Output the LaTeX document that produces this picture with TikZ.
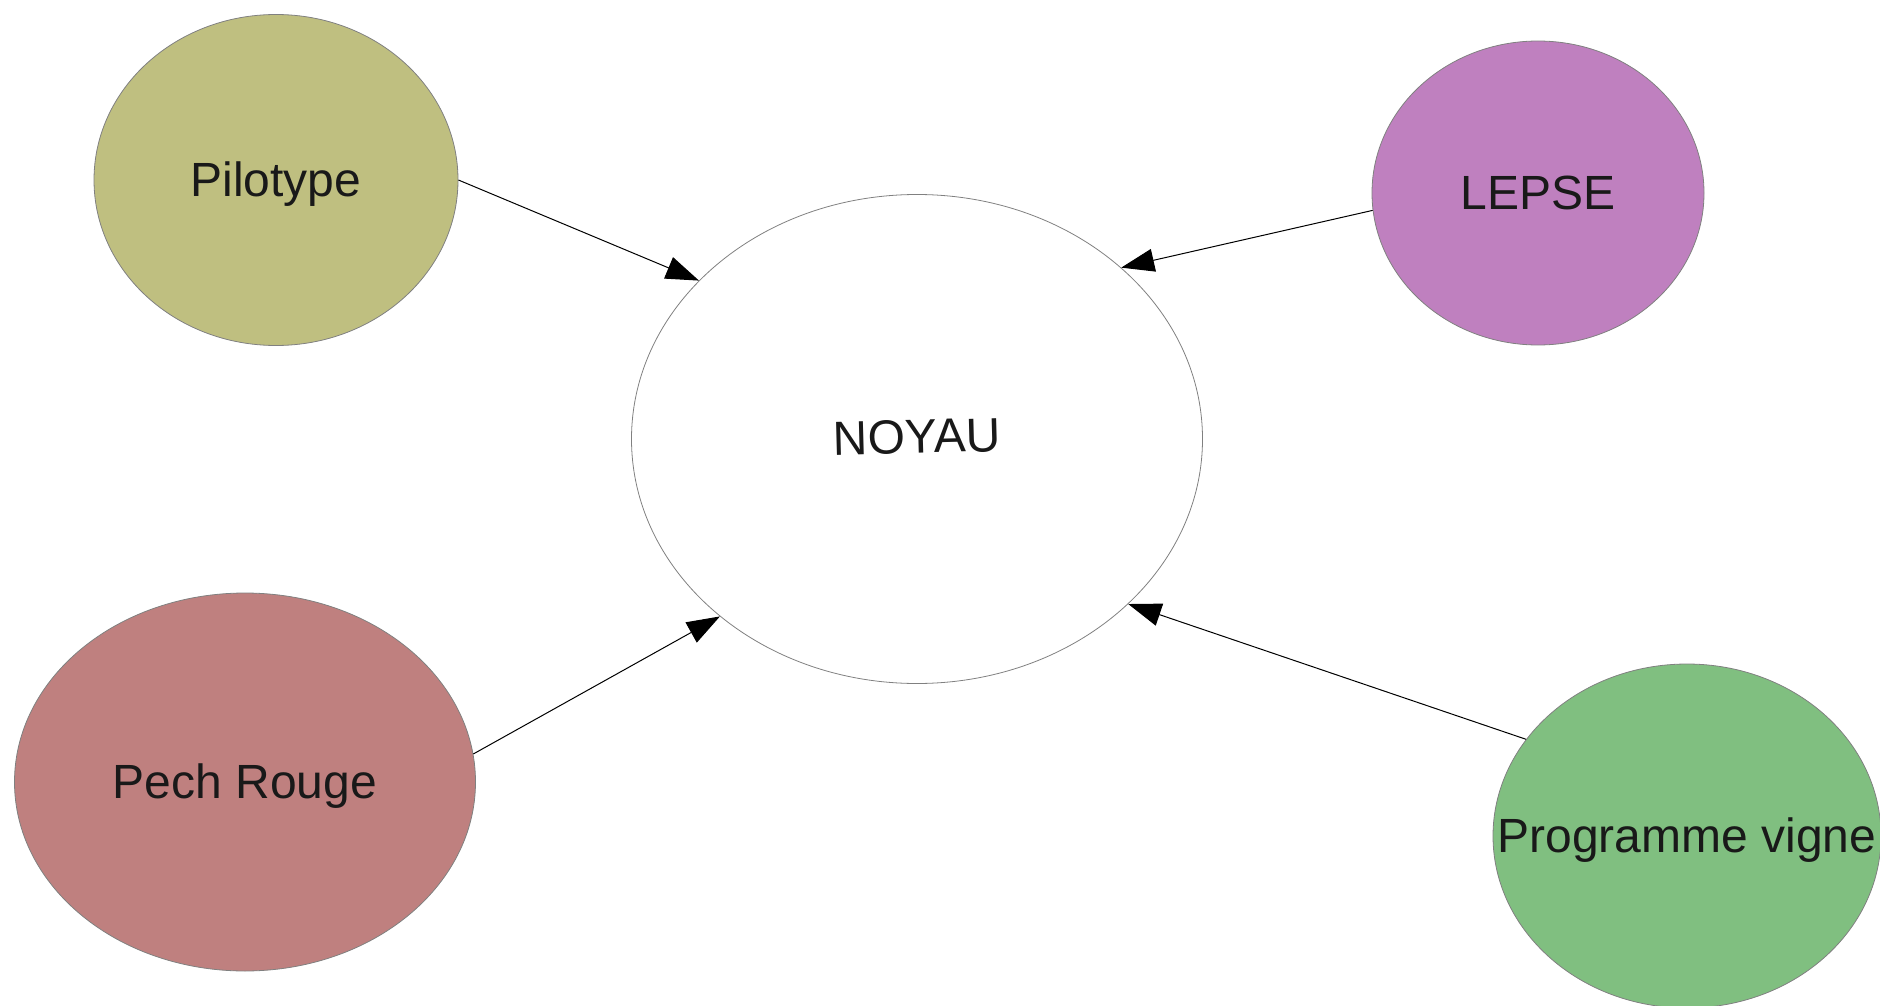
\documentclass[tikz,border=0pt]{standalone}
\usepackage{fontspec}
\setmainfont{Liberation Sans}
\usepackage{graphicx}
\usetikzlibrary{shapes.geometric,arrows.meta}

\definecolor{pilocol}{RGB}{191,191,128}
\definecolor{lepsecol}{RGB}{191,128,191}
\definecolor{pechcol}{RGB}{191,128,127}
\definecolor{vignecol}{RGB}{128,191,128}
\definecolor{rimcol}{RGB}{128,128,128}

\tikzset{
  blob/.style={ellipse, draw=rimcol, line width=0.8pt, inner sep=0pt,
    text=black!90, font=\fontsize{48}{58}\selectfont,
    text height=33pt, text depth=0pt},
  link/.style={-{Triangle[length=33pt,width=23pt]}, line width=1pt, black}
}

\begin{document}
\begin{tikzpicture}[x=1pt,y=-1pt]
                        \useasboundingbox (0,0) rectangle (1880,1006);

                        \node[blob, fill=white, minimum width=571pt, minimum height=489pt] (noyau) at (917,439) {\rotatebox{1.5}{NOYAU}};
                        \node[blob, fill=pilocol, minimum width=364pt, minimum height=331pt] (pilo) at (276,180) {Pilotype};
                        \node[blob, fill=lepsecol, minimum width=332pt, minimum height=304pt] (lepse) at (1538,193) {LEPSE};
                        \node[blob, fill=pechcol, minimum width=461pt, minimum height=378pt] (pech) at (245,782) {Pech Rouge};
                        \node[blob, fill=vignecol, minimum width=388pt, minimum height=344pt] (vigne) at (1687,836) {\makebox[0pt]{Programme vigne}};

                        \draw[link] (pilo.east) -- (noyau.144);
                        \draw[link] (lepse.186) -- (noyau.40.5);
                        \draw[link] (pech.7) -- (noyau.222);
                        \draw[link] (vigne.149) -- (noyau.322.5);
                    \end{tikzpicture}
\end{document}
